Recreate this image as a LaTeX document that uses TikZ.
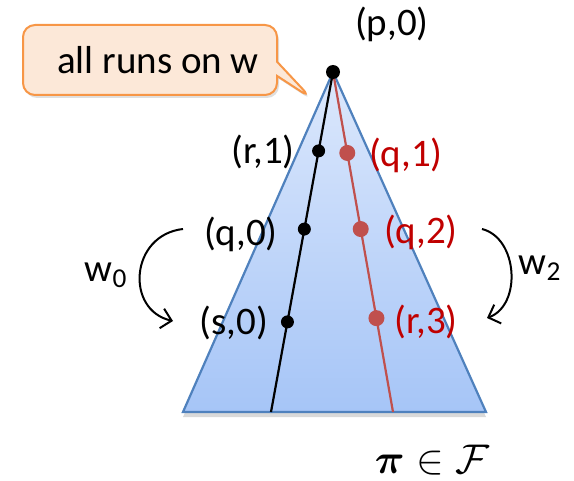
\documentclass[tikz,border=0pt]{standalone}
\usepackage{fontspec}
\setmainfont{Carlito}
\usepackage{amsmath}
\usepackage{amssymb}
\usepackage{bm}
\usepackage{tikz}
\usetikzlibrary{arrows.meta, positioning, calc, shapes.callouts, shadows}

\definecolor{treeline}{HTML}{4F81BD}
\definecolor{treetop}{RGB}{220,232,252}
\definecolor{treebot}{RGB}{166,197,247}
\definecolor{runred}{HTML}{C0504D}
\definecolor{lblred}{HTML}{C00000}
\definecolor{notefill}{HTML}{FCE8D8}
\definecolor{noteline}{HTML}{F79646}

\begin{document}
\begin{tikzpicture}[
    x=0.5pt, y=-0.5pt,
    font=\fontsize{19.5}{22}\selectfont,
    dot/.style={circle, fill, inner sep=0pt, minimum size=6.5pt},
    rdot/.style={dot, fill=runred, minimum size=8pt},
    lbl/.style={inner sep=1pt},
    rlbl/.style={lbl, text=lblred},
    run/.style={line width=1.1pt},
    loop/.style={-{Straight Barb[length=5pt, width=10pt]}, line width=1pt},
    note/.style={rectangle callout, draw=noteline, fill=notefill, line width=1pt,
                 rounded corners=6pt, minimum width=127pt, minimum height=35pt,
                 drop shadow={opacity=0.25, shadow xshift=1pt, shadow yshift=-1.5pt}},
]
\useasboundingbox (0,0) rectangle (574,481);

% --- the tree of runs ---------------------------------------------------------
\coordinate (top) at (333,72);
\coordinate (bl) at (183,412);
\coordinate (br) at (486,412);
\coordinate (bend) at (271,412);
\coordinate (rend) at (393,412);
\path[draw=treeline, line width=1.1pt, top color=treetop, bottom color=treebot,
      drop shadow={opacity=0.3, shadow xshift=0pt, shadow yshift=-2.5pt}]
    (top) -- (br) -- (bl) -- cycle;

% --- two runs: black one and red one --------------------------------------------
\draw[run] (top) -- (bend);
\draw[run, runred] (top) -- (rend);
\node[dot] (r1) at ($(top)!0.232!(bend)$) {};
\node[dot] (q0) at ($(top)!0.462!(bend)$) {};
\node[dot] (s0) at ($(top)!0.735!(bend)$) {};
\node[rdot] (q1) at ($(top)!0.238!(rend)$) {};
\node[rdot] (q2) at ($(top)!0.462!(rend)$) {};
\node[rdot] (r3) at ($(top)!0.724!(rend)$) {};
\node[dot, minimum size=7pt] (p0) at (top) {};

% --- state labels -----------------------------------------------------------------
\node[lbl] (lp0) at (392,24) {(p,0)};
\node[lbl] (lr1) at (263,152) {(r,1)};
\node[lbl] (lq0) at (241,234) {(q,0)};
\node[lbl] (ls0) at (234,323) {(s,0)};
\node[rlbl] (lq1) at (406,155) {(q,1)};
\node[rlbl] (lq2) at (421,232) {(q,2)};
\node[rlbl] (lr3) at (426,322) {(r,3)};

% --- loops w0 and w2 --------------------------------------------------------------
\coordinate (a0) at (183,229);
\coordinate (b0) at (173,321);
\coordinate (a2) at (482,229);
\coordinate (b2) at (487,318);
\draw[loop] (a0) .. controls (130,235) and (125,310) .. (b0);
\draw[loop] (a2) .. controls (518,238) and (522,305) .. (b2);
\node[lbl] (w0) at (106,275) {w\textsubscript{0}};
\node[lbl] (w2) at (540,268) {w\textsubscript{2}};

% --- callout and formula ------------------------------------------------------------
\coordinate (tip) at (311,98);
\node[note, callout absolute pointer={(tip)}]
    (all) at (150,60) {\hspace*{8pt}all runs on w};
\node[lbl, font=\fontsize{22}{24}\selectfont] (pif) at (432,460)
    {$\bm{\pi}\in\mathcal{F}$};

\end{tikzpicture}
\end{document}
